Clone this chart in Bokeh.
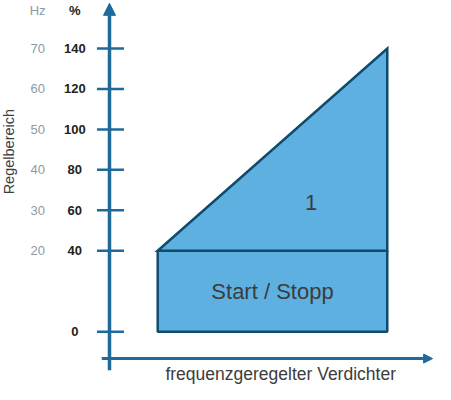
import numpy as np
from bokeh.plotting import figure
from bokeh.models import Range1d, Arrow, NormalHead
from bokeh.core.properties import value
from bokeh.embed import file_html
from bokeh.resources import INLINE

# data --------------------------------------------------------
pct_ticks = [0, 40, 60, 80, 100, 120, 140]
hz_pct = [40, 60, 80, 100, 120, 140]
hz_labels = ['20', '30', '40', '50', '60', '70']
start_stop = [0, 40]          # % range of start / stop block
control_top = 140             # % upper end of control range
region_labels = ['1', 'Start / Stopp']

# colors ------------------------------------------------------
c_axis = '#1d6a9b'
c_fill = '#5eb0e0'
c_edge = '#0f4b6d'
c_text = '#3c3c3c'
c_hz = '#8c9aa5'
font = value("Liberation Sans")

x0, x1 = 0.5, 2.88            # horizontal extent of the region blocks

p = figure(width=435, height=384, output_backend="svg", toolbar_location=None,
           tools='', min_border=0)
p.x_range = Range1d(-1.13, 3.38)
p.y_range = Range1d(-26.1, 163.7)
p.axis.visible = False
p.grid.visible = False
p.outline_line_color = None
p.background_fill_color = 'white'
p.border_fill_color = 'white'

# regions
p.quad(left=[x0], right=[x1], bottom=[start_stop[0]], top=[start_stop[1]],
       fill_color=c_fill, line_color=c_edge, line_width=2.5)
p.patch([x0, x1, x1], [start_stop[1], control_top, start_stop[1]],
        fill_color=c_fill, line_color=c_edge, line_width=2.5, line_join='miter')

# axes arrows
p.add_layout(Arrow(end=NormalHead(size=12, fill_color=c_axis, line_color=c_axis),
                   x_start=0, y_start=-19, x_end=0, y_end=162.3,
                   line_color=c_axis, line_width=3.5))
p.add_layout(Arrow(end=NormalHead(size=9, fill_color=c_axis, line_color=c_axis),
                   x_start=-0.08, y_start=-13.3, x_end=3.35, y_end=-13.3,
                   line_color=c_axis, line_width=3))

# ticks
p.segment(x0=[-0.13] * len(pct_ticks), x1=[0.15] * len(pct_ticks),
          y0=pct_ticks, y1=pct_ticks, line_color=c_axis, line_width=2.5)

# tick labels
p.text(x=[-0.36] * len(pct_ticks), y=pct_ticks, text=[str(v) for v in pct_ticks],
       text_font=font, text_font_size='13px', text_font_style='bold',
       text_color='#222222', text_align='center', text_baseline='middle')
p.text(x=[-0.745] * len(hz_pct), y=hz_pct, text=hz_labels,
       text_font=font, text_font_size='13px',
       text_color=c_hz, text_align='center', text_baseline='middle')
p.text(x=[-0.745], y=[159], text=['Hz'],
       text_font=font, text_font_size='13px',
       text_color=c_hz, text_align='center', text_baseline='middle')
p.text(x=[-0.36], y=[159], text=['%'],
       text_font=font, text_font_size='13px', text_font_style='bold',
       text_color='#222222', text_align='center', text_baseline='middle')

# region labels
p.text(x=[2.09, (x0 + x1) / 2], y=[64, sum(start_stop) / 2], text=region_labels,
       text_font=font, text_font_size='22px', text_color=c_text,
       text_align='center', text_baseline='middle')

# axis titles
p.text(x=[1.775], y=[-20.9], text=['frequenzgeregelter Verdichter'],
       text_font=font, text_font_size='17.5px', text_color=c_text,
       text_align='center', text_baseline='middle')
p.text(x=[-1.04], y=[89], text=['Regelbereich'], angle=np.pi / 2,
       text_font=font, text_font_size='14.5px', text_color=c_text,
       text_align='center', text_baseline='middle')

open("out.html", "w").write(file_html(p, INLINE))
